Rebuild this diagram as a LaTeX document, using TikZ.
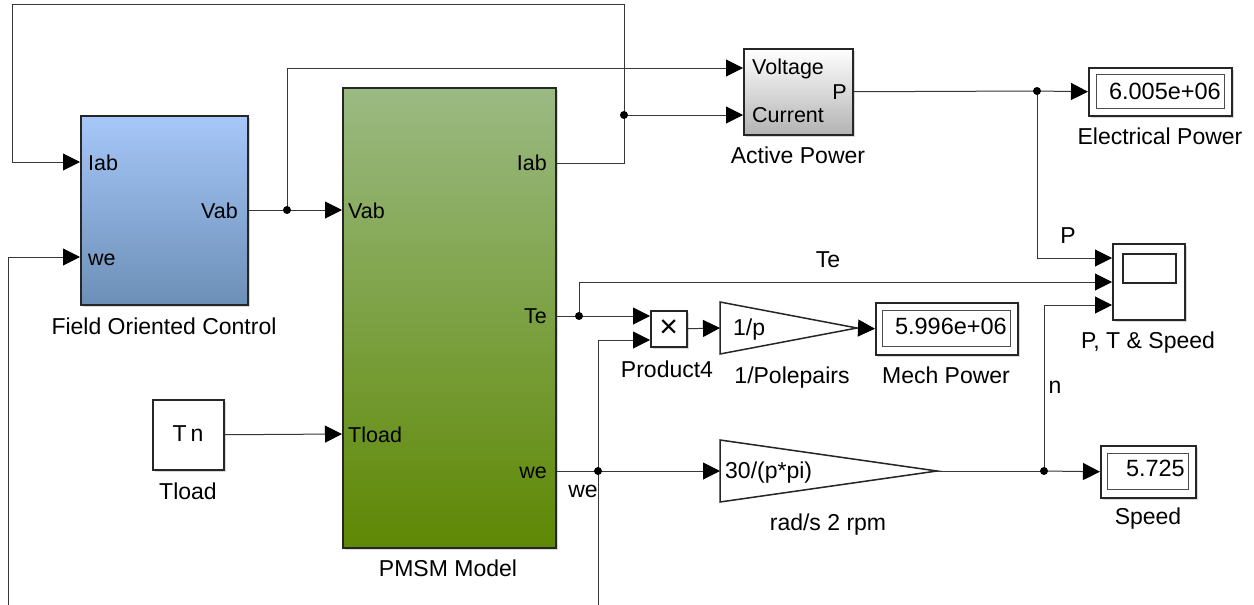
\documentclass[tikz,border=0pt]{standalone}
\usepackage{fontspec}
\setmainfont{Liberation Sans}
\usetikzlibrary{arrows.meta,shadows,calc}
\definecolor{focTop}{RGB}{166,199,248}
\definecolor{focBot}{RGB}{108,143,183}
\definecolor{pmTop}{RGB}{155,186,131}
\definecolor{pmBot}{RGB}{94,136,4}
\definecolor{wirec}{RGB}{55,55,55}
\begin{document}
\begin{tikzpicture}[x=1pt,y=-1pt,
  wire/.style={line width=1pt, draw=wirec},
  sig/.style={wire, -{Triangle[length=17pt,width=17pt,color=black,fill=black]}},
  blk/.style={draw=black!85, line width=1.5pt, anchor=north west, inner sep=0pt,
              drop shadow={shadow xshift=2pt,shadow yshift=-2pt,opacity=0.3}},
  lbl/.style={font=\fontsize{23}{27}\selectfont, inner sep=0pt, anchor=base},
  port/.style={font=\fontsize{21.5}{25}\selectfont, inner sep=0pt},
  num/.style={font=\fontsize{23.5}{27}\selectfont, inner sep=0pt, anchor=base east},
  inbox/.style={draw=black!70, line width=1pt, anchor=north west, inner sep=0pt, fill=white},
]
\fill[white] (0,0) rectangle (1254,605);
\useasboundingbox (0,0) rectangle (1254,605);

% ---------- blocks ----------
\node[blk, minimum width=167pt, minimum height=189pt, top color=focTop, bottom color=focBot] (foc) at (80,115) {};
\node[blk, minimum width=213pt, minimum height=460pt, top color=pmTop, bottom color=pmBot] (pm) at (342,87) {};
\node[blk, minimum width=109pt, minimum height=86pt, top color=white, bottom color=black!30] (ap) at (743,48) {};
\node[blk, fill=white, minimum width=71pt, minimum height=70pt] (tl) at (152,399) {};
\node[blk, fill=white, minimum width=36pt, minimum height=36pt] (pr) at (650,310) {};
\node[blk, fill=white, minimum width=143pt, minimum height=48pt] (ep) at (1088,67) {};
\node[inbox, minimum width=128pt, minimum height=34pt] (epi) at (1096,74) {};
\node[blk, fill=white, minimum width=142pt, minimum height=52pt] (mp) at (875,302) {};
\node[inbox, minimum width=128pt, minimum height=36pt] (mpi) at (882,310) {};
\node[blk, fill=white, minimum width=95pt, minimum height=52pt] (sp) at (1100,445) {};
\node[inbox, minimum width=81pt, minimum height=36pt] (spi) at (1107,453) {};
\node[blk, fill=white, minimum width=72pt, minimum height=76pt] (sc) at (1112,243) {};
\node[draw=black!85, line width=1.8pt, anchor=north west, inner sep=0pt, minimum width=53pt, minimum height=29pt] (scr) at (1122,253) {};

% gains
\coordinate (g1in) at (720,328);
\coordinate (g1out) at (857,328);
\coordinate (g2in) at (720,471);
\coordinate (g2out) at (937,471);
\draw[black!85, line width=1.5pt, fill=white, line join=miter] (720,302) -- (g1out) -- (720,354) -- cycle;
\draw[black!85, line width=1.5pt, fill=white, line join=miter] (720,440) -- (g2out) -- (720,502) -- cycle;

% ---------- texts in blocks ----------
\node[port, anchor=base west] at (88,170) {Iab};
\node[port, anchor=base west] at (88,265) {we};
\node[port, anchor=base east] at (238,218) {Vab};
\node[port, anchor=base west] at (348,218) {Vab};
\node[port, anchor=base west] at (348,442) {Tload};
\node[port, anchor=base east] at (547,170) {Iab};
\node[port, anchor=base east] at (547,323) {Te};
\node[port, anchor=base east] at (547,478) {we};
\node[port, anchor=base west] at (752,74) {Voltage};
\node[port, anchor=base west] at (752,122) {Current};
\node[port, anchor=base east] at (847,99) {P};
\node[lbl] at (188,441) {T\,n};
\node[font=\fontsize{32}{34}\selectfont, inner sep=0pt] at (pr.center) {×};
\node[port, font=\fontsize{23}{27}\selectfont, anchor=base west] at (733,335) {1/p};
\node[port, font=\fontsize{23}{27}\selectfont, anchor=base west] at (725,478) {30/(p*pi)};
\node[num] at (1221,99) {6.005e+06};
\node[num] at (1007,334) {5.996e+06};
\node[num] at (1185,476) {5.725};

% ---------- block labels ----------
\node[lbl] at (164,334) {Field Oriented Control};
\node[lbl] at (448,576) {PMSM Model};
\node[lbl] at (798,163) {Active Power};
\node[lbl] at (188,499) {Tload};
\node[lbl] at (667,377) {Product4};
\node[lbl] at (792,383) {1/Polepairs};
\node[lbl] at (946,383) {Mech Power};
\node[lbl] at (1160,144) {Electrical Power};
\node[lbl] at (1148,348) {P, T \& Speed};
\node[lbl] at (1148,524) {Speed};
\node[lbl] at (828,530) {rad/s 2 rpm};

% ---------- ports ----------
\coordinate (foc-iab) at (foc.west |- 0,162);
\coordinate (foc-we)  at (foc.west |- 0,257);
\coordinate (foc-vab) at (foc.east |- 0,210);
\coordinate (pm-vab)  at (pm.west |- 0,210);
\coordinate (pm-tl)   at (pm.west |- 0,434);
\coordinate (pm-iab)  at (pm.east |- 0,163);
\coordinate (pm-te)   at (pm.east |- 0,316);
\coordinate (pm-we)   at (pm.east |- 0,471);
\coordinate (ap-v)    at (ap.west |- 0,68);
\coordinate (ap-c)    at (ap.west |- 0,115);
\coordinate (pr-1)    at (pr.west |- 0,316);
\coordinate (pr-2)    at (pr.west |- 0,340);
\coordinate (sc-1)    at (sc.west |- 0,258);
\coordinate (sc-2)    at (sc.west |- 0,282);
\coordinate (sc-3)    at (sc.west |- 0,305);

% junctions and bends
\coordinate (j1) at (287,210);
\coordinate (j2) at (624,115);
\coordinate (j3) at (1037,91);
\coordinate (j4) at (579,316);
\coordinate (j5) at (598,471);
\coordinate (j6) at (1044,471);
\coordinate (c1) at (624,4);
\coordinate (c2) at (12,4);
\coordinate (wbot) at (598,605);
\coordinate (lbot) at (8,605);

% ---------- connectors ----------
\draw[wire] (foc-vab) -- (j1);
\draw[sig] (j1) -- (pm-vab);
\draw[sig] (j1) |- (ap-v);
\draw[sig] (pm-iab) -| (c1) -- (c2) |- (foc-iab);
\draw[sig] (j2) -- (ap-c);
\draw[sig] (tl.east) -- (pm-tl);
\draw[wire] (ap.east) -- (j3);
\draw[sig] (j3) -- (ep.west);
\draw[sig] (j3) |- (sc-1);
\draw[wire] (pm-te) -- (j4);
\draw[sig] (j4) -- (pr-1);
\draw[sig] (j4) |- (sc-2);
\draw[wire] (pm-we) -- (j5);
\draw[sig] (j5) -- (g2in);
\draw[sig] (j5) |- (pr-2);
\draw[wire] (j5) -- (wbot);
\draw[sig] (lbot) |- (foc-we);
\draw[sig] (pr.east) -- (g1in);
\draw[sig] (g1out) -- (mp.west);
\draw[wire] (g2out) -- (j6);
\draw[sig] (j6) -- (sp.west);
\draw[sig] (j6) |- (sc-3);
\foreach \j in {j1,j2,j3,j4,j5,j6} \fill (\j) circle (4);

% signal labels
\node[lbl] at (1068,243) {P};
\node[lbl] at (828,267) {Te};
\node[lbl] at (1055,393) {n};
\node[lbl] at (583,497) {we};
\end{tikzpicture}
\end{document}
